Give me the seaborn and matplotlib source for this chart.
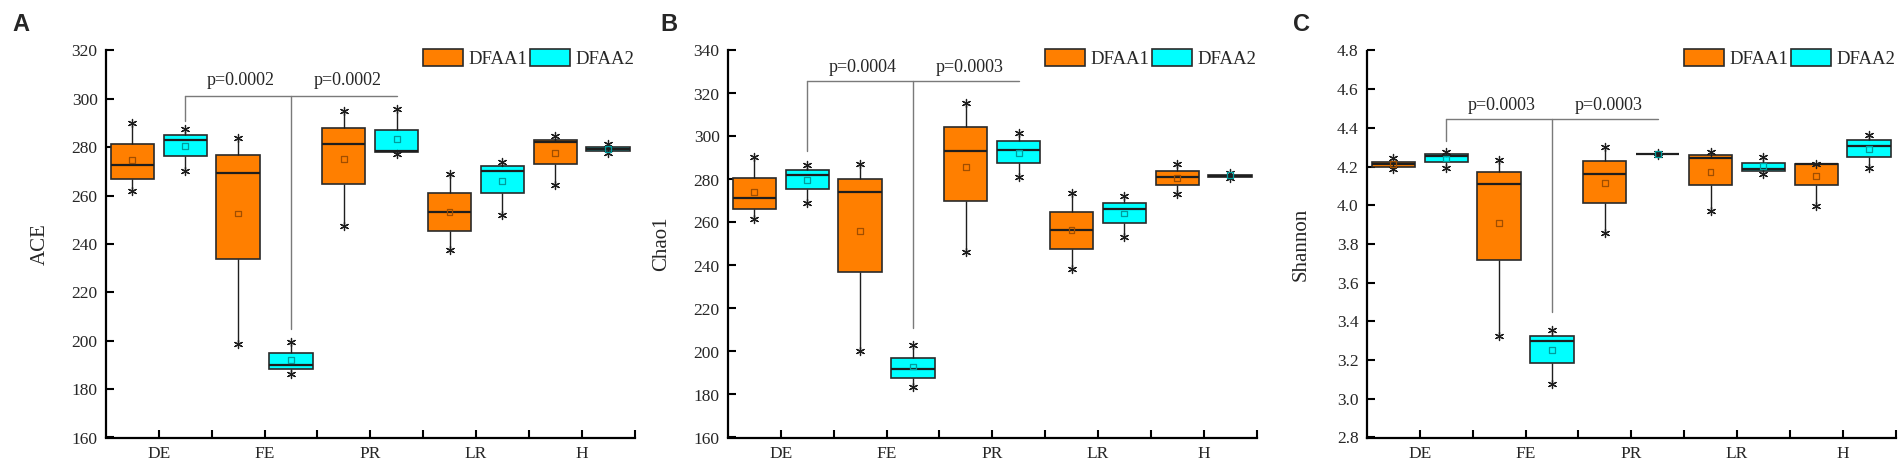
import numpy as np
import pandas as pd
import matplotlib
matplotlib.use("Agg")
import matplotlib.pyplot as plt
import seaborn as sns
from matplotlib.patches import Patch
from matplotlib.ticker import MultipleLocator

# ---------------- data ----------------
groups = ["DE", "FE", "PR", "LR", "H"]
series = ["DFAA1", "DFAA2"]

# five-number summaries per group: [min, Q1, median, Q3, max]
ace_dfaa1 = [[261.8, 267.0, 272.8, 281.3, 290.2],
             [198.5, 234.0, 269.4, 276.7, 284.0],
             [247.4, 264.6, 281.3, 288.1, 294.8],
             [237.5, 245.3, 253.1, 261.1, 269.1],
             [264.2, 273.1, 282.0, 283.1, 284.5]]
ace_dfaa2 = [[270.1, 276.5, 282.9, 285.1, 287.4],
             [186.3, 188.2, 189.9, 194.8, 199.6],
             [277.4, 277.9, 278.3, 287.0, 295.7],
             [251.9, 261.1, 270.3, 272.3, 273.8],
             [277.8, 278.6, 279.1, 280.2, 281.3]]
ace_mean1 = [274.6, 252.6, 275.3, 253.1, 277.5]
ace_mean2 = [280.4, 191.9, 283.4, 266.0, 279.3]

chao_dfaa1 = [[261.4, 266.5, 271.4, 280.9, 290.6],
              [200.4, 237.2, 274.1, 280.4, 287.1],
              [246.2, 269.9, 293.4, 304.4, 315.4],
              [238.5, 247.6, 256.4, 265.1, 273.6],
              [273.4, 277.3, 281.2, 284.1, 287.1]]
chao_dfaa2 = [[269.3, 275.5, 282.0, 284.3, 286.8],
              [183.5, 187.7, 191.7, 197.1, 202.9],
              [281.3, 287.5, 293.9, 297.7, 301.6],
              [253.2, 259.8, 266.2, 269.1, 272.1],
              [280.9, 281.3, 281.8, 282.3, 283.0]]
chao_mean1 = [274.2, 256.0, 286.0, 256.4, 280.7]
chao_mean2 = [279.6, 193.0, 292.3, 264.2, 282.1]

shan_dfaa1 = [[4.190, 4.200, 4.214, 4.224, 4.245],
              [3.322, 3.716, 4.109, 4.171, 4.233],
              [3.857, 4.011, 4.164, 4.230, 4.302],
              [3.968, 4.106, 4.245, 4.260, 4.278],
              [3.998, 4.104, 4.211, 4.212, 4.214]]
shan_dfaa2 = [[4.193, 4.224, 4.254, 4.264, 4.274],
              [3.077, 3.187, 3.297, 3.326, 3.355],
              [4.262, 4.264, 4.266, 4.267, 4.269],
              [4.164, 4.175, 4.187, 4.218, 4.250],
              [4.193, 4.250, 4.309, 4.336, 4.365]]
shan_mean1 = [4.214, 3.910, 4.113, 4.173, 4.150]
shan_mean2 = [4.242, 3.250, 4.266, 4.202, 4.291]

ylabels = ["ACE", "Chao1", "Shannon"]
panel_letters = ["A", "B", "C"]
ylims = [(160, 320), (160, 340), (2.8, 4.8)]
ysteps = [20, 20, 0.2]
# bracket: [horizontal y, left-drop end y, centre-drop end y]
brackets = [[301.2, 290.8, 204.8],
            [325.6, 293.4, 211.0],
            [4.444, 4.331, 3.446]]
p_texts = [["p=0.0002", "p=0.0002"],
           ["p=0.0004", "p=0.0003"],
           ["p=0.0003", "p=0.0003"]]
p_text_y = [307.6, 332.1, 4.515]

colors = {"DFAA1": "#FF7F00", "DFAA2": "#00FFFF"}
mean_colors = {"DFAA1": "#A04E00", "DFAA2": "#009C9C"}

panels = [(ace_dfaa1, ace_dfaa2, ace_mean1, ace_mean2),
          (chao_dfaa1, chao_dfaa2, chao_mean1, chao_mean2),
          (shan_dfaa1, shan_dfaa2, shan_mean1, shan_mean2)]

# ---------------- style ----------------
sns.set_style("ticks")
plt.rcParams["font.family"] = ["Liberation Serif", "DejaVu Serif"]

fig = plt.figure(figsize=(19.02, 4.65), dpi=100)
lefts = [106 / 1902, 728 / 1902, 1367 / 1902]
axw = 528.5 / 1902
bottom = 1 - 437.5 / 465
axh = (437.5 - 50.5) / 465
letter_x = [12 / 1902, 660 / 1902, 1293 / 1902]

offsets = [-0.25, 0.25]

for k, (d1, d2, m1, m2) in enumerate(panels):
    ax = fig.add_axes([lefts[k], bottom, axw, axh])
    rows = []
    for gi, g in enumerate(groups):
        for s, d in zip(series, (d1, d2)):
            for v in d[gi]:
                rows.append({"group": g, "series": s, "value": v})
    df = pd.DataFrame(rows)

    sns.boxplot(data=df, x="group", y="value", hue="series",
                order=groups, hue_order=series, palette=colors, saturation=1,
                whis=(0, 100), width=1.0, gap=0.18, showcaps=False,
                linecolor="#2a2a2a", linewidth=1.2, fliersize=0,
                medianprops=dict(linewidth=1.6, color="#1e1e1e"),
                whiskerprops=dict(linewidth=1.0, color="#1e1e1e"),
                legend=False, ax=ax, zorder=2)

    # whisker-end asterisks and mean squares
    for j, (s, d, m) in enumerate(zip(series, (d1, d2), (m1, m2))):
        xs = np.arange(len(groups)) + offsets[j]
        lows = [row[0] for row in d]
        highs = [row[-1] for row in d]
        ax.scatter(np.concatenate([xs, xs]), lows + highs, marker=(6, 2, 0),
                   s=34, color="#1e1e1e", linewidths=0.9, zorder=4)
        ax.scatter(xs, m, marker="s", s=18, facecolors="none",
                   edgecolors=mean_colors[s], linewidths=0.9, zorder=5)

    # significance bracket
    yh, yl, yc = brackets[k]
    ax.plot([0 + offsets[1], 2 + offsets[1]], [yh, yh], color="#7a7a7a", lw=1.0, zorder=1)
    ax.plot([0 + offsets[1], 0 + offsets[1]], [yh, yl], color="#7a7a7a", lw=1.0, zorder=1)
    ax.plot([1 + offsets[1], 1 + offsets[1]], [yh, yc], color="#7a7a7a", lw=1.0, zorder=1)
    ax.text(0.77, p_text_y[k], p_texts[k][0], ha="center", va="center", fontsize=13)
    ax.text(1.79, p_text_y[k], p_texts[k][1], ha="center", va="center", fontsize=13)

    ax.set_xlim(-0.5, 4.5)
    ax.set_ylim(*ylims[k])
    ax.yaxis.set_major_locator(MultipleLocator(ysteps[k]))
    if k == 2:
        ax.yaxis.set_major_formatter(matplotlib.ticker.FormatStrFormatter("%.1f"))
    ax.set_xticks(range(len(groups)))
    ax.set_xticklabels(groups)
    ax.set_xticks(np.arange(-0.5, 4.6, 1.0)[1:], minor=True)
    ax.tick_params(axis="both", which="both", direction="in", width=1.5,
                   color="black", labelsize=12.5, pad=6)
    ax.tick_params(axis="y", which="major", length=6)
    ax.tick_params(axis="x", which="both", length=5.5)
    ax.set_xlabel("")
    ax.set_ylabel(ylabels[k], fontsize=15)
    ax.yaxis.set_label_coords(-0.107, 0.5)
    sns.despine(ax=ax)
    for sp in ("left", "bottom"):
        ax.spines[sp].set_linewidth(1.6)
        ax.spines[sp].set_color("black")

    handles = [Patch(facecolor=colors[s], edgecolor="#2a2a2a", linewidth=1.2, label=s)
               for s in series]
    ax.legend(handles=handles, loc="upper right", bbox_to_anchor=(1.0, 1.005),
              ncol=2, frameon=False, fontsize=13.5, handlelength=2.15,
              handleheight=1.05, handletextpad=0.3, columnspacing=0.1,
              borderaxespad=0, borderpad=0)

    fig.text(letter_x[k], 0.972, panel_letters[k], fontsize=17, fontweight="bold",
             family=["Liberation Sans", "DejaVu Sans"], ha="left", va="top")

fig.savefig("out.png", dpi=100)
